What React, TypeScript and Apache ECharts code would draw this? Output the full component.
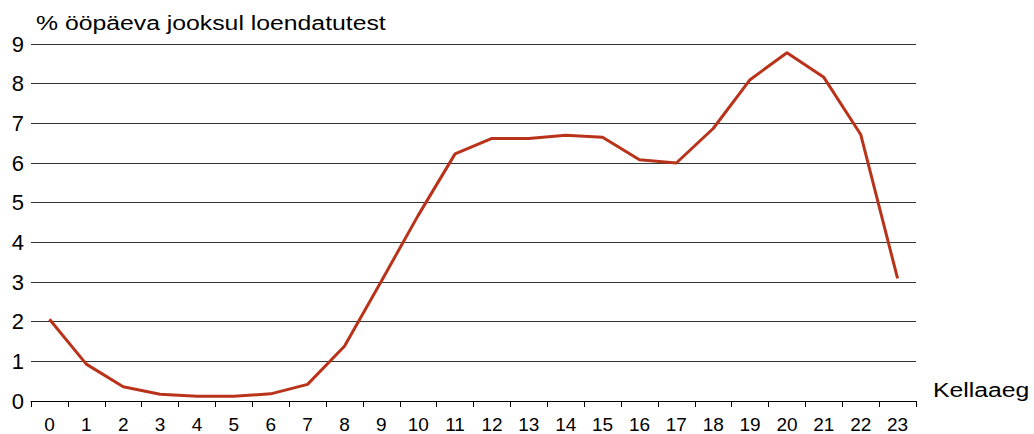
import React, { useEffect, useRef } from "react";
import * as echarts from "echarts";

const hours = ["0","1","2","3","4","5","6","7","8","9","10","11","12","13","14","15","16","17","18","19","20","21","22","23"];
const shares = [2.06,0.93,0.36,0.17,0.12,0.12,0.18,0.42,1.38,3.02,4.68,6.23,6.62,6.62,6.7,6.65,6.08,6.0,6.87,8.1,8.78,8.16,6.72,3.09];
const yTicks = [0,1,2,3,4,5,6,7,8,9];
const titleText = "% ööpäeva jooksul loendatutest";
const xName = "Kellaaeg";

const FONT = "'Liberation Sans', Arial, sans-serif";

export default function App() {
  const ref = useRef<HTMLDivElement>(null);
  useEffect(() => {
    if (!ref.current) return;
    const chart = echarts.init(ref.current, undefined, { renderer: "svg" });
    chart.setOption({
      animation: false,
      backgroundColor: "#ffffff",
      textStyle: { fontFamily: FONT, color: "#000" },
      grid: { left: 31, right: 118, top: 44, bottom: 32, containLabel: false },
      graphic: [
        {
          type: "text",
          x: 36,
          y: 12,
          scaleX: 1.18,
          style: { text: titleText, font: `21px ${FONT}`, fill: "#000", verticalAlign: "top" },
        },
        {
          type: "text",
          x: 933,
          y: 379,
          scaleX: 1.18,
          style: { text: xName, font: `21px ${FONT}`, fill: "#000", verticalAlign: "top" },
        },
      ],
      xAxis: {
        type: "category",
        data: hours,
        boundaryGap: true,
        axisLine: { show: true, lineStyle: { color: "#000", width: 1 } },
        axisTick: { show: true, length: 6, lineStyle: { color: "#000" }, alignWithLabel: false },
        axisLabel: { fontSize: 19, color: "#000", fontFamily: FONT, margin: 14, interval: 0 },
        splitLine: { show: false },
      },
      yAxis: {
        type: "value",
        min: yTicks[0],
        max: yTicks[yTicks.length - 1],
        interval: 1,
        axisLine: { show: false },
        axisTick: { show: false },
        axisLabel: { fontSize: 22, color: "#000", fontFamily: FONT, margin: 7 },
        splitLine: { show: true, lineStyle: { color: "#333", width: 1 } },
      },
      series: [
        {
          type: "line",
          data: shares,
          symbol: "none",
          lineStyle: { color: "#b9331b", width: 3 },
          itemStyle: { color: "#b9331b" },
        },
      ],
    });
    return () => chart.dispose();
  }, []);
  return <div ref={ref} style={{ width: 1034, height: 434, position: "absolute", left: 0, top: 0 }} />;
}
